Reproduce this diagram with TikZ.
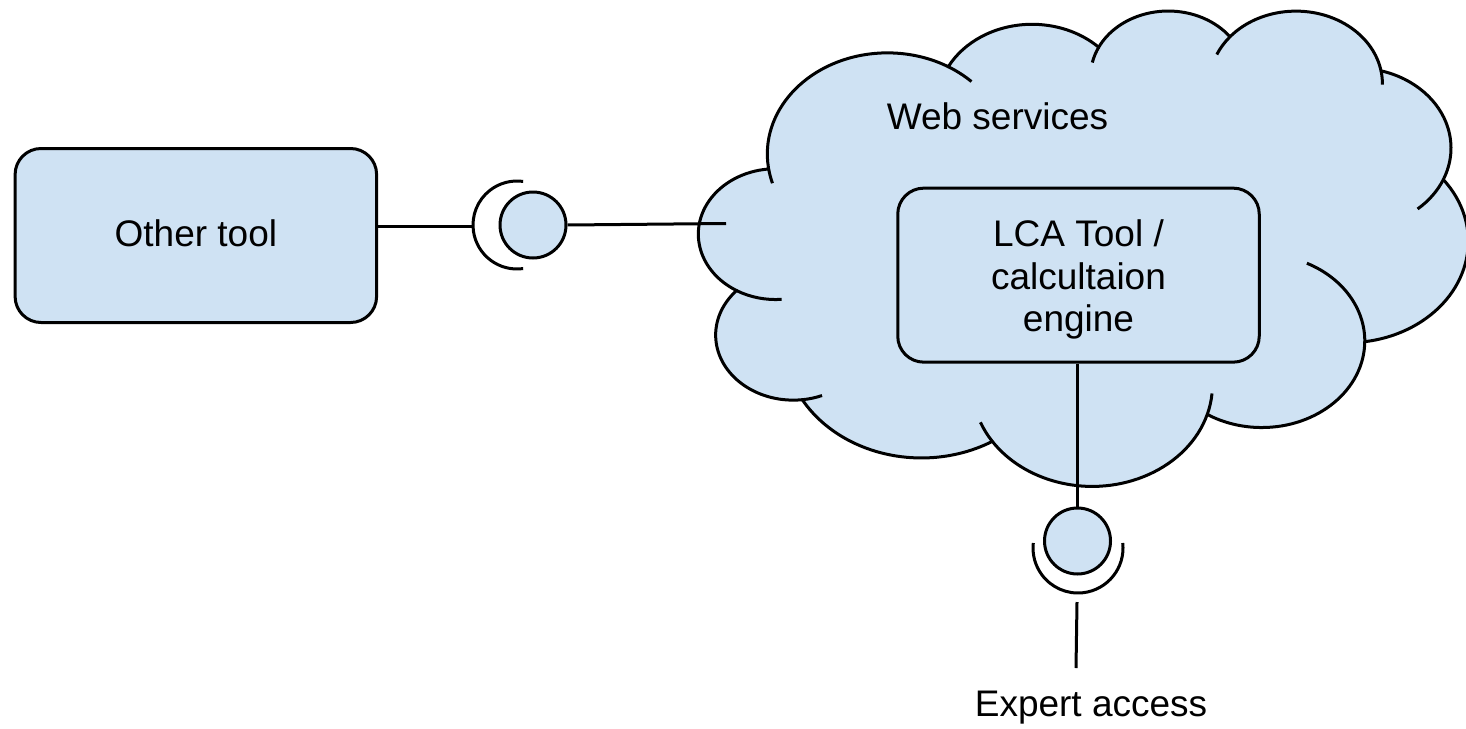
\documentclass[tikz,border=0pt]{standalone}
\usepackage{fontspec}
\setmainfont{Liberation Sans}
\definecolor{paleblue}{HTML}{CFE2F3}
\tikzset{
  ink/.style={line width=3pt, draw=black},
  toolbox/.style={ink, fill=paleblue, rounded corners=26pt,
    minimum width=361.5pt, minimum height=174pt, inner sep=0pt},
  ball/.style={ink, fill=paleblue, circle, minimum size=66pt, inner sep=0pt},
  cloudbody/.style={ink, fill=paleblue, line join=round},
  cloudtick/.style={ink},
  txt/.style={font=\fontsize{37}{42.5}\selectfont, inner sep=0pt}
}
\begin{document}
\begin{tikzpicture}[x=1pt, y=1pt, yscale=-1]
\useasboundingbox (0,0) rectangle (1466,728);

% cloud: eleven elliptical lobes chained end to end (units of 1/100 of the shape grid)
\begin{scope}[shift={(699,9.5)}, xscale=1.78, yscale=1.10]
  \draw[cloudbody] (39.00,143.70) coordinate (j0)
    arc[start angle=172.255, end angle=300.36, x radius=67.53, y radius=91.90] coordinate (j1)
    arc[start angle=-152.02, end angle=-45.46, x radius=53.33, y radius=72.67] coordinate (j2)
    arc[start angle=-153.50, end angle=-37.35, x radius=43.65, y radius=59.45] coordinate (j3)
    arc[start angle=-139.71, end angle=-10.21, x radius=48.57, y radius=65.95] coordinate (j4)
    arc[start angle=-74.77, end angle=23.21, x radius=53.33, y radius=72.73] coordinate (j5)
    arc[start angle=-37.52, end angle=81.86, x radius=67.75, y radius=92.20] coordinate (j6)
    arc[start angle=0.46, end angle=121.98, x radius=57.85, y radius=78.67] coordinate (j7)
    arc[start angle=16.84, end angle=146.23, x radius=67.52, y radius=92.15] coordinate (j8)
    arc[start angle=58.98, end angle=150.17, x radius=77.20, y radius=105.43] coordinate (j9)
    arc[start angle=83.31, end angle=223.10, x radius=43.60, y radius=59.18] coordinate (j10)
    arc[start angle=120.35, end angle=264.11, x radius=43.45, y radius=59.45]
    -- cycle;
  % inner ticks continuing a lobe past its junction
  \draw[cloudtick] (j0) arc[start angle=172.255, end angle=163.20, x radius=67.53, y radius=91.90];
  \draw[cloudtick] (j1) arc[start angle=300.36, end angle=314.27, x radius=67.53, y radius=91.90];
  \draw[cloudtick] (j2) arc[start angle=-153.50, end angle=-167.73, x radius=43.65, y radius=59.45];
  \draw[cloudtick] (j3) arc[start angle=-139.71, end angle=-156.30, x radius=48.57, y radius=65.95];
  \draw[cloudtick] (j4) arc[start angle=-10.21, end angle=0.82, x radius=48.57, y radius=65.95];
  \draw[cloudtick] (j5) arc[start angle=23.21, end angle=49.63, x radius=53.33, y radius=72.73];
  \draw[cloudtick] (j6) arc[start angle=0.46, end angle=-64.03, x radius=57.85, y radius=78.67];
  \draw[cloudtick] (j7) arc[start angle=16.84, end angle=4.74, x radius=67.52, y radius=92.15];
  \draw[cloudtick] (j8) arc[start angle=146.23, end angle=158.47, x radius=67.52, y radius=92.15];
  \draw[cloudtick] (j9) arc[start angle=83.31, end angle=68.23, x radius=43.60, y radius=59.18];
  \draw[cloudtick] (j10) arc[start angle=120.35, end angle=85.55, x radius=43.45, y radius=59.45];
\end{scope}

% boxes and texts
\node[toolbox] (other) at (195.85,235.5) {};
\node[txt, anchor=base] (othertext) at (195.85,246) {Other tool};
\node[toolbox] (lca) at (1078.5,275.15) {};
\node[txt, align=center] (lcatext) at (1078.5,279.7) {LCA Tool /\\calcultaion\\engine};
\node[txt, anchor=base] (webtext) at (997.5,129.3) {Web services};
\node[txt, anchor=base] (experttext) at (1091,716.7) {Expert access};

% provided / required interfaces
\node[ball] (ball1) at (533,225) {};
\node[ball] (ball2) at (1077.5,541) {};
\coordinate (sock1c) at (517,225);
\coordinate (sock1w) at (473,226.5);
\coordinate (cloudport) at (726,223.5);
\coordinate (sock2c) at (1078,548);
\coordinate (sock2s) at (1077,602);
\coordinate (expertend) at (1076,668);

\draw[ink] (other.east |- sock1w) -- (sock1w);
\draw[ink] (sock1c) ++(82:44) arc[start angle=82, end angle=278, radius=44];
\draw[ink] (ball1.east) -- (cloudport);
\draw[ink] (ball2.north |- lca.south) -- (ball2.north);
\draw[ink] (sock2c) ++(-6.4:45) arc[start angle=-6.4, end angle=186.4, radius=45];
\draw[ink] (sock2s) -- (expertend);
\end{tikzpicture}
\end{document}
